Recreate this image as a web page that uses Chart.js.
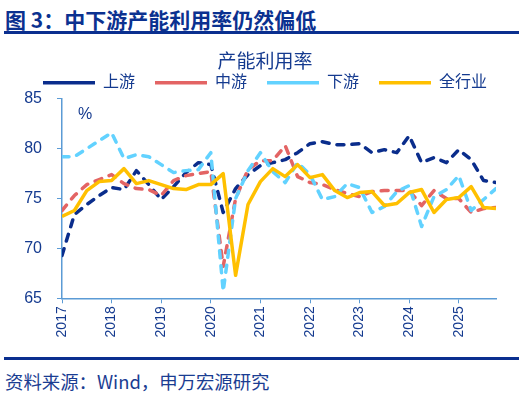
<!DOCTYPE html>
<html>
<head>
<meta charset="utf-8">
<script src="https://cdn.jsdelivr.net/npm/chart.js@4.4.0/dist/chart.umd.min.js"></script>
<style>
  body { margin: 0; width: 530px; height: 395px; position: relative; background: #fff; overflow: hidden;
         font-family: "Noto Sans CJK SC", sans-serif; }
  #head { position: absolute; left: 5px; top: 7px; font-size: 21px; line-height: 24px; font-weight: bold; color: #0b3190; }
  .bar { position: absolute; left: 4px; width: 515px; height: 3px; background: #0a2f8f; }
  #src { position: absolute; left: 5px; top: 370px; font-size: 18.4px; line-height: 22px; color: #1a3d92; }
  #wrap { position: absolute; left: 0; top: 36px; width: 530px; height: 320px; }
</style>
</head>
<body>
<div id="head">图 3：中下游产能利用率仍然偏低</div>
<div class="bar" style="top:31px"></div>
<div id="wrap"><canvas id="utilChart"></canvas></div>
<div class="bar" style="top:357px"></div>
<div id="src">资料来源：Wind，申万宏源研究</div>
<script>
// quarterly points, 2016Q3 .. 2025Q2
const quarters = ['2016Q3','2016Q4',
  '2017Q1','2017Q2','2017Q3','2017Q4','2018Q1','2018Q2','2018Q3','2018Q4',
  '2019Q1','2019Q2','2019Q3','2019Q4','2020Q1','2020Q2','2020Q3','2020Q4',
  '2021Q1','2021Q2','2021Q3','2021Q4','2022Q1','2022Q2','2022Q3','2022Q4',
  '2023Q1','2023Q2','2023Q3','2023Q4','2024Q1','2024Q2','2024Q3','2024Q4',
  '2025Q1','2025Q2'];
const yearLabels = ['2017','2018','2019','2020','2021','2022','2023','2024','2025'];

const upstream = [69.3, 73.4, 74.4, 75.3, 76.1, 75.9, 77.8, 76.4, 74.9, 76.2,
  77.6, 78.6, 78.4, 73.6, 76.0, 77.4, 78.3, 78.6, 78.9, 79.6,
  80.5, 80.7, 80.4, 80.4, 80.5, 79.6, 79.9, 79.6, 81.3, 78.6,
  79.1, 78.6, 79.9, 78.9, 76.8, 76.6];
const midstream = [73.8, 75.3, 76.4, 76.9, 77.4, 76.5, 76.0, 75.9, 75.3, 76.8,
  77.3, 77.5, 77.7, 68.2, 75.0, 77.9, 78.8, 78.8, 80.3, 77.2,
  76.6, 76.4, 75.9, 75.5, 75.2, 75.7, 75.8, 75.8, 75.8, 74.3,
  75.8, 75.0, 75.0, 73.6, 74.0, 74.1];
const downstream = [79.2, 79.2, 80.0, 80.8, 81.6, 79.0, 79.4, 79.2, 78.4, 77.6,
  77.8, 77.9, 79.6, 65.7, 75.0, 77.8, 79.6, 77.7, 76.6, 78.6,
  77.4, 74.9, 75.2, 76.5, 76.1, 73.6, 74.2, 75.7, 76.3, 72.2,
  75.2, 75.9, 77.3, 73.8, 74.9, 76.0];
const allIndustry = [73.2, 73.8, 75.8, 76.7, 76.8, 78.0, 76.5, 76.8, 76.4, 76.0,
  75.9, 76.4, 76.4, 77.5, 67.3, 74.4, 76.7, 78.0, 77.2, 78.4,
  77.1, 77.4, 75.8, 75.1, 75.6, 75.7, 74.3, 74.5, 75.6, 75.9,
  73.6, 74.9, 75.1, 76.2, 74.1, 74.0];

const navy = '#143a8f';
const axisColor = '#5b9bd5';
const fontFamily = '"Liberation Sans", "Noto Sans CJK SC", sans-serif';

const toPoints = arr => arr.map((v, i) => ({ x: i, y: v }));

function lineSet(label, values, color, dashed, order) {
  return {
    label: label,
    data: toPoints(values),
    borderColor: color,
    backgroundColor: color,
    borderWidth: 3.5,
    borderDash: dashed ? [7, 8] : [],
    borderCapStyle: dashed ? 'round' : 'butt',
    borderJoinStyle: 'round',
    pointRadius: 0,
    tension: 0,
    order: order
  };
}

// the little "%" unit inside the plot
const percentLabel = {
  id: 'percentLabel',
  afterDraw(chart) {
    const { ctx, chartArea } = chart;
    ctx.save();
    ctx.fillStyle = navy;
    ctx.font = '16px ' + fontFamily;
    ctx.textBaseline = 'middle';
    ctx.fillText('%', chartArea.left + 16, chartArea.top + 16);
    ctx.restore();
  }
};

const ctx = document.getElementById('utilChart').getContext('2d');
const utilChart = new Chart(ctx, {
  type: 'line',
  data: {
    datasets: [
      lineSet('上游', upstream, '#0a2d8c', true, 3),
      lineSet('中游', midstream, '#e36464', true, 2),
      lineSet('下游', downstream, '#62d2ff', true, 1),
      lineSet('全行业', allIndustry, '#ffc000', false, 0)
    ]
  },
  options: {
    responsive: true,
    maintainAspectRatio: false,
    animation: false,
    layout: { padding: 0 },
    plugins: {
      title: {
        display: true,
        text: '产能利用率',
        color: navy,
        font: { size: 19, family: fontFamily, weight: 'normal' },
        padding: { top: 15, bottom: -19 }
      },
      legend: {
        position: 'top',
        maxHeight: 44,
        labels: {
          usePointStyle: true,
          pointStyle: 'line',
          pointStyleWidth: 52,
          color: navy,
          font: { size: 16, family: fontFamily },
          padding: 20,
          sort: (a, b) => a.datasetIndex - b.datasetIndex
        }
      },
      tooltip: { enabled: false }
    },
    scales: {
      x: {
        type: 'linear',
        min: 0,
        max: quarters.length - 1,
        afterFit: s => { s.height = 57.7; },
        ticks: {
          stepSize: 4,
          includeBounds: false,
          autoSkip: false,
          maxRotation: 90,
          minRotation: 90,
          padding: 3,
          color: navy,
          font: { size: 14, family: fontFamily },
          callback: v => yearLabels[v / 4]
        },
        grid: { drawOnChartArea: false, tickLength: 5, color: axisColor },
        border: { color: axisColor, width: 1.5 }
      },
      y: {
        min: 65,
        max: 85,
        afterFit: s => { s.width = 62; },
        ticks: {
          stepSize: 5,
          padding: 15,
          color: navy,
          font: { size: 16, family: fontFamily }
        },
        grid: { drawOnChartArea: false, tickLength: 5, color: axisColor },
        border: { color: axisColor, width: 1.5 }
      },
      // empty right-hand spacer so the plot ends where the reference does
      spacer: {
        position: 'right',
        min: 0,
        max: 1,
        afterFit: s => { s.width = 34; },
        ticks: { display: false },
        grid: { display: false },
        border: { display: false }
      }
    }
  },
  plugins: [percentLabel]
});
</script>
</body>
</html>
